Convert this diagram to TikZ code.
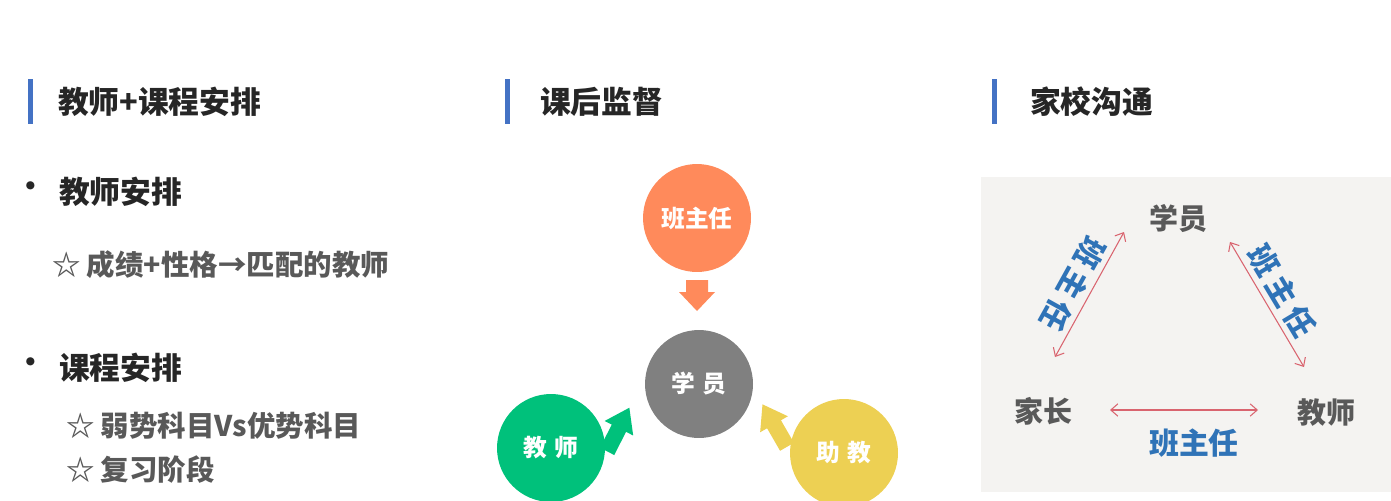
\documentclass[tikz,border=0pt]{standalone}
\usepackage{fontspec}
\setmainfont{Noto Sans CJK SC}
\newfontfamily\heavy{Noto Sans CJK SC Black}
\usetikzlibrary{arrows.meta}
\definecolor{barblue}{HTML}{4472C4}
\definecolor{darktxt}{HTML}{262626}
\definecolor{greytxt}{HTML}{595959}
\definecolor{orangec}{HTML}{FF8A5B}
\definecolor{greyc}{HTML}{808080}
\definecolor{greenc}{HTML}{00C17B}
\definecolor{yellowc}{HTML}{EDD053}
\definecolor{panelbg}{HTML}{F4F3F1}
\definecolor{linkred}{HTML}{D9646F}
\definecolor{labblue}{HTML}{2F73B7}
\tikzset{
  headbar/.style={fill=barblue},
  headtext/.style={anchor=west,text=darktxt,font=\heavy\fontsize{17.5}{20}\selectfont},
  bulletdot/.style={text=darktxt,font=\fontsize{22}{24}\selectfont},
  itemtext/.style={anchor=west,text=greytxt,font=\bfseries\fontsize{16.2}{18}\selectfont},
  role/.style={circle,minimum size=2.16cm,text=white,font=\bfseries\fontsize{13.5}{16}\selectfont},
  party/.style={text=greytxt,font=\bfseries\fontsize{16.5}{18}\selectfont},
  chat/.style={text=labblue,font=\bfseries\fontsize{17}{18}\selectfont},
  link/.style={linkred,line width=0.6pt,{Straight Barb[length=4pt,width=7pt]}-{Straight Barb[length=4pt,width=7pt]}}
}
\newcommand{\gap}{\hspace{3pt}}
\begin{document}
\begin{tikzpicture}[x=0.02cm,y=-0.02cm,every node/.style={inner sep=0pt,outer sep=0pt}]
  \useasboundingbox (0,0) rectangle (1391,500);
  \clip (0,0) rectangle (1391,500);
  % headings
  \fill[headbar] (28,79) rectangle (33,124);
  \node[headtext] (h1) at (58,102) {教师+课程安排};
  \fill[headbar] (505,79) rectangle (510,124);
  \node[headtext] (h2) at (540,102) {课后监督};
  \fill[headbar] (992,79) rectangle (997,124);
  \node[headtext] (h3) at (1030,102) {家校沟通};
  % left column
  \node[bulletdot] (b1) at (31,191) {•};
  \node[headtext] (t1) at (59,192) {教师安排};
  \node[itemtext] (s1) at (52,265) {☆ 成绩+性格→匹配的教师};
  \node[bulletdot] (b2) at (31,367) {•};
  \node[headtext] (t2) at (59,368) {课程安排};
  \node[itemtext] (s2) at (66,426) {☆ 弱势科目Vs优势科目};
  \node[itemtext] (s3) at (66,470) {☆ 复习阶段};
  % supervision
  \node[role,fill=orangec] (bzr) at (697,218) {班主任};
  \node[role,fill=greyc] (xy) at (699,384) {学\,\,员};
  \node[role,fill=greenc] (js) at (551,448) {教\,\,师};
  \node[role,fill=yellowc] (zj) at (844,453) {助\,\,教};
  \fill[orangec,shift={(697,295)},rotate=-90] (-15,-11) -- (-3,-11) -- (-3,-18) -- (16,0) -- (-3,18) -- (-3,11) -- (-15,11) -- cycle;
  \fill[greenc,shift={(618,430)},rotate=63] (-24,-8) -- (2,-8) -- (2,-16) -- (25,0) -- (2,16) -- (2,8) -- (-24,8) -- cycle;
  \fill[yellowc,shift={(775,426)},rotate=120] (-24,-8) -- (2,-8) -- (2,-16) -- (25,0) -- (2,16) -- (2,8) -- (-24,8) -- cycle;
  % home-school
  \fill[panelbg] (981,177) rectangle (1391,492);
  \node[party] (pxy) at (1178,219) {学员};
  \node[party] (pjz) at (1043,411) {家长};
  \node[party] (pjs) at (1326,413) {教师};
  \coordinate (l1) at (1055,357);
  \coordinate (l2) at (1124,232);
  \coordinate (r1) at (1230,242);
  \coordinate (r2) at (1304,367);
  \coordinate (m1) at (1110,410);
  \coordinate (m2) at (1258,410);
  \draw[link] (l1) -- (l2);
  \draw[link] (r1) -- (r2);
  \draw[link] (m1) -- (m2);
  \node[chat,rotate=-119] (cl) at (1073,284) {班\gap 主\gap 任};
  \node[chat,rotate=-59] (cr) at (1282,291) {班\gap 主\gap 任};
  \node[chat] (cm) at (1194,443) {班主任};
\end{tikzpicture}
\end{document}
